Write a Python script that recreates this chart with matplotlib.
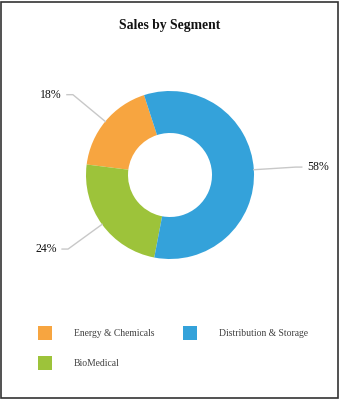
import matplotlib.pyplot as plt
import numpy as np
from matplotlib.patches import Rectangle

# data
segments = ["Energy & Chemicals", "BioMedical", "Distribution & Storage"]
shares = [18, 24, 58]
colors = ["#F7A540", "#9DC33A", "#34A2DA"]

plt.rcParams['font.family'] = ['Liberation Serif', 'DejaVu Serif']

fig = plt.figure(figsize=(3.4, 4.0), dpi=100)
ax = fig.add_axes([0, 0, 1, 1])

cx, cy, r = 170, 225, 84
wedges, _ = ax.pie(shares, colors=colors, startangle=108, counterclock=True,
                   radius=r, center=(cx, cy),
                   wedgeprops=dict(width=r * 0.5, edgecolor='none'))
ax.set_xlim(0, 340)
ax.set_ylim(0, 400)
ax.set_aspect('equal')
ax.axis('off')

# percentage labels with leader lines
for w, s in zip(wedges, shares):
    ang = np.deg2rad((w.theta1 + w.theta2) / 2)
    x0, y0 = cx + r * np.cos(ang), cy + r * np.sin(ang)
    x1, y1 = cx + 1.5 * r * np.cos(ang), cy + 1.5 * r * np.sin(ang)
    side = 1 if np.cos(ang) > 0 else -1
    x2 = x1 + side * 6
    ax.plot([x0, x1, x2], [y0, y1, y1], color='#c8c8c8', lw=1)
    ax.text(x2 + side * 5, y1, f"{s}%", ha='left' if side > 0 else 'right',
            va='center', fontsize=8.5, color='#111111')

fig.text(0.5, 1 - 26 / 400, "Sales by Segment", ha='center', va='center',
         fontsize=9.8, fontweight='bold', color='#111111')

# legend (column-major, two columns)
leg_x = [38, 38, 183]
leg_y = [333, 363, 333]
for name, c, lx, ly in zip(segments, colors, leg_x, leg_y):
    ax.add_patch(Rectangle((lx, 400 - ly - 7), 14, 14, facecolor=c,
                           edgecolor='none'))
    ax.text(lx + 36, 400 - ly, name, ha='left', va='center', fontsize=6.9,
            color='#404040')

# outer frame
fig.patches.append(Rectangle((0.002, 0.004), 0.992, 0.992,
                             transform=fig.transFigure, fill=False,
                             edgecolor='#333333', lw=1.2))

fig.savefig('out.png', dpi=100)
